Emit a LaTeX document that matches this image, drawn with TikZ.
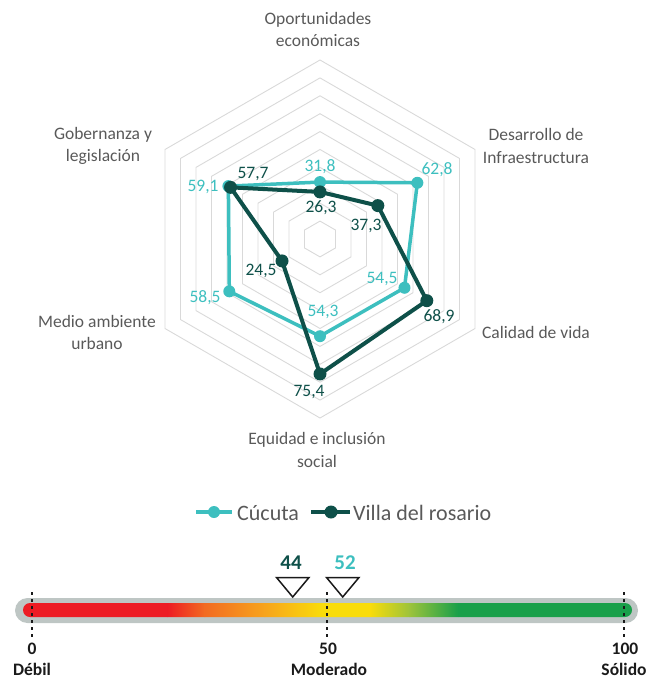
\documentclass[tikz,border=0pt]{standalone}
\usepackage{fontspec}
\setmainfont{Carlito}
\usetikzlibrary{calc}
\definecolor{cucuta}{HTML}{3DBFBF}
\definecolor{villa}{HTML}{0E5049}
\definecolor{gridgray}{HTML}{D9D9D9}
\definecolor{txtgray}{HTML}{595959}
\definecolor{bargray}{HTML}{BEC6C4}
\definecolor{barred}{HTML}{ED1C24}
\definecolor{barorange}{HTML}{F26B21}
\definecolor{baramber}{HTML}{F7A41C}
\definecolor{baryellow}{HTML}{F9DC0A}
\definecolor{barlime}{HTML}{9CC33B}
\definecolor{bargreen}{HTML}{19A04A}
\definecolor{textblack}{HTML}{1A1A1A}
\begin{document}
\begin{tikzpicture}[x=1pt,y=-1pt,
  axislabel/.style={text=txtgray, font=\fontsize{17.5}{22.5}\selectfont, align=center, inner sep=0pt},
  clabel/.style={text=cucuta, font=\fontsize{17.5}{21}\selectfont, inner sep=0pt},
  vlabel/.style={text=villa, font=\fontsize{17.5}{21}\selectfont, inner sep=0pt},
  gridline/.style={draw=gridgray, line width=0.9pt},
  cline/.style={draw=cucuta, line width=3.5pt, line join=miter},
  vline/.style={draw=villa, line width=4pt, line join=miter},
  cdot/.style={circle, fill=cucuta, inner sep=0pt, minimum size=12pt},
  vdot/.style={circle, fill=villa, inner sep=0pt, minimum size=13pt},
  legtext/.style={text=txtgray, font=\fontsize{22}{26}\selectfont, inner sep=0pt, anchor=west},
  scorelabel/.style={font=\bfseries\fontsize{21}{25}\selectfont, inner sep=0pt},
  scalelabel/.style={text=textblack, font=\bfseries\fontsize{17.5}{21}\selectfont, inner sep=0pt, anchor=base},
  marker/.style={draw=textblack, fill=white, line width=1.5pt, line join=miter},
  tickline/.style={draw=textblack, line width=1.6pt, dash pattern=on 3pt off 4pt}
]
\path[use as bounding box] (0,0) rectangle (653,679);

% ---------- radar grid ----------
\coordinate (C) at (320,239);
\foreach \k in {1,...,10} {
  \pgfmathsetmacro\r{17.9*\k}
  \draw[gridline] ($(C)+(-90:\r)$) -- ($(C)+(-30:\r)$) -- ($(C)+(30:\r)$)
    -- ($(C)+(90:\r)$) -- ($(C)+(150:\r)$) -- ($(C)+(210:\r)$) -- cycle;
}

% ---------- axis labels ----------
\node[axislabel] (axop) at (318,29.5) {Oportunidades\\económicas};
\node[axislabel] (axde) at (536,146) {Desarrollo de\\Infraestructura};
\node[axislabel] (axca) at (536,332) {Calidad de vida};
\node[axislabel] (axeq) at (317,450) {Equidad e inclusión\\social};
\node[axislabel] (axme) at (97,332.5) {Medio ambiente\\urbano};
\node[axislabel] (axgo) at (103,146) {Gobernanza y\\legislación};

% ---------- data points ----------
\coordinate (c1) at ($(C)+(-90:{0.318*179})$);
\coordinate (c2) at ($(C)+(-30:{0.628*179})$);
\coordinate (c3) at ($(C)+(30:{0.545*179})$);
\coordinate (c4) at ($(C)+(90:{0.543*179})$);
\coordinate (c5) at ($(C)+(150:{0.585*179})$);
\coordinate (c6) at ($(C)+(210:{0.591*179})$);

\coordinate (v1) at ($(C)+(-90:{0.263*179})$);
\coordinate (v2) at ($(C)+(-30:{0.373*179})$);
\coordinate (v3) at ($(C)+(30:{0.689*179})$);
\coordinate (v4) at ($(C)+(90:{0.754*179})$);
\coordinate (v5) at ($(C)+(150:{0.245*179})$);
\coordinate (v6) at ($(C)+(210:{0.577*179})$);

\draw[cline] (c1) -- (c2) -- (c3) -- (c4) -- (c5) -- (c6) -- cycle;
\foreach \i in {1,...,6} \node[cdot] (cm\i) at (c\i) {};

\draw[vline] (v1) -- (v2) -- (v3) -- (v4) -- (v5) -- (v6) -- cycle;
\foreach \i in {1,...,6} \node[vdot] (vm\i) at (v\i) {};

% ---------- data labels ----------
\node[clabel] (lc1) at (320,167) {31,8};
\node[clabel] (lc2) at (437,170) {62,8};
\node[clabel] (lc3) at (382,279) {54,5};
\node[clabel] (lc4) at (323,312) {54,3};
\node[clabel] (lc5) at (205,298) {58,5};
\node[clabel] (lc6) at (203,187) {59,1};

\node[vlabel] (lv1) at (321,208) {26,3};
\node[vlabel] (lv2) at (366,226) {37,3};
\node[vlabel] (lv3) at (439,317) {68,9};
\node[vlabel] (lv4) at (309,392) {75,4};
\node[vlabel] (lv5) at (261,271) {24,5};
\node[vlabel] (lv6) at (253,174) {57,7};

% ---------- legend ----------
\coordinate (lgc1) at (196,512);
\coordinate (lgc2) at (232,512);
\draw[cline] (lgc1) -- (lgc2);
\node[cdot] (lgcm) at (214,512) {};
\node[legtext] (lgct) at (237,513) {Cúcuta};
\coordinate (lgv1) at (311,512);
\coordinate (lgv2) at (350,512);
\draw[vline] (lgv1) -- (lgv2);
\node[vdot] (lgvm) at (331,512) {};
\node[legtext] (lgvt) at (353,513) {Villa del rosario};

% ---------- scale bar ----------
\fill[bargray, rounded corners=12.5pt] (15,598) rectangle (638,623);
\begin{scope}
  \clip[rounded corners=7pt] (23,603) rectangle (632,617);
  \fill[barred] (20,600) rectangle (168,620);
  \shade[left color=barred, right color=barorange] (167.5,600) rectangle (205,620);
  \shade[left color=barorange, right color=baramber] (204.5,600) rectangle (265,620);
  \shade[left color=baramber, right color=baryellow] (264.5,600) rectangle (322,620);
  \fill[baryellow] (321.5,600) rectangle (370,620);
  \shade[left color=baryellow, right color=barlime] (369.5,600) rectangle (410,620);
  \shade[left color=barlime, right color=bargreen] (409.5,600) rectangle (458,620);
  \fill[bargreen] (457.5,600) rectangle (640,620);
\end{scope}

% ticks
\coordinate (t0a) at (32,592);   \coordinate (t0b) at (32,637);
\coordinate (t50a) at (327,592); \coordinate (t50b) at (327,637);
\coordinate (t100a) at (624,592);\coordinate (t100b) at (624,637);
\draw[tickline] (t0a) -- (t0b);
\draw[tickline] (t50a) -- (t50b);
\draw[tickline] (t100a) -- (t100b);

% markers
\draw[marker] (276.5,577.5) -- (309,577.5) -- (292.7,597) -- cycle;
\draw[marker] (326.5,577.5) -- (359,577.5) -- (342.7,597) -- cycle;
\node[scorelabel, text=villa] (s44) at (291,563) {44};
\node[scorelabel, text=cucuta] (s52) at (345,563) {52};

% scale labels
\node[scalelabel] (n0) at (32,654) {0};
\node[scalelabel] (n50) at (328,654) {50};
\node[scalelabel] (n100) at (625,654) {100};
\node[scalelabel] (d0) at (32,675) {Débil};
\node[scalelabel] (d50) at (329,675) {Moderado};
\node[scalelabel] (d100) at (624,675) {Sólido};
\end{tikzpicture}
\end{document}
